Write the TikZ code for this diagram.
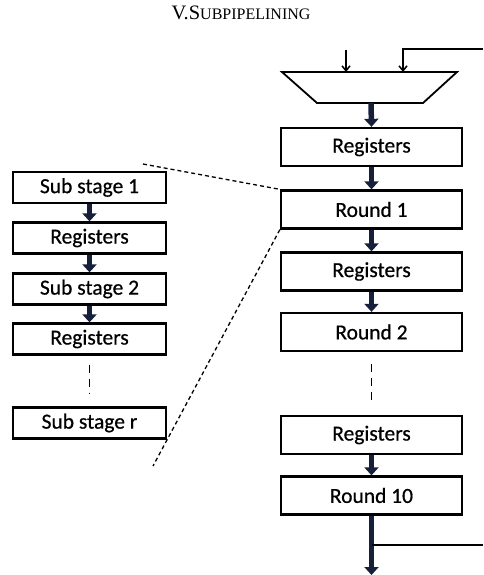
\documentclass[tikz,border=0pt]{standalone}
\usepackage{fontspec}
\setmainfont{Carlito}
\newfontface\boxfont{Carlito}[FakeBold=0.6]
\newfontfamily\titlefont{Liberation Serif}
\usetikzlibrary{arrows.meta}
\definecolor{arrnavy}{RGB}{22,32,58}
\tikzset{
  x=1pt, y=-1pt,
  rbox/.style={draw=black, line width=2.3pt, minimum width=181pt, minimum height=38pt, inner sep=0pt, font=\boxfont\fontsize{21.5}{23}\selectfont},
  lbox/.style={draw=black, line width=2.3pt, minimum width=153pt, minimum height=31pt, inner sep=0pt, font=\boxfont\fontsize{21.5}{23}\selectfont},
  fatarrow/.style={draw=arrnavy, line width=5.5pt, -{Triangle[width=14pt,length=8pt]}},
  thinarrow/.style={draw=black, line width=1.5pt, -{Straight Barb[length=5pt,width=8pt]}},
  thinline/.style={draw=black, line width=1.5pt},
  zoomline/.style={draw=black, line width=1.3pt, dash pattern=on 4pt off 3pt},
  dots/.style={draw=black, line width=1.8pt, dash pattern=on 8pt off 6pt},
}
\begin{document}
\begin{tikzpicture}
\useasboundingbox (0,0) rectangle (483,575);
\node[font=\titlefont\fontsize{20.5}{22}\selectfont] (title) at (241,13) {V.S{\fontsize{16}{18}\selectfont UBPIPELINING}};
% trapezoid (multiplexer)
\coordinate (tl) at (282,72);
\coordinate (tr) at (457,72);
\coordinate (br) at (423,103);
\coordinate (bl) at (317,103);
\draw[line width=1.8pt] (tl) -- (tr) -- (br) -- (bl) -- cycle;
\coordinate (muxout) at (371,103);
% right column
\node[rbox] (r1) at (371.5,147) {Registers};
\node[rbox] (ro1) at (371.5,209.5) {Round 1};
\node[rbox] (r2) at (371.5,271.5) {Registers};
\node[rbox] (ro2) at (371.5,332) {Round 2};
\node[rbox] (r3) at (371.5,435) {Registers};
\node[rbox] (ro10) at (371.5,495.5) {Round 10};
% left column
\node[lbox] (s1) at (89.5,187.5) {Sub stage 1};
\node[lbox] (lr1) at (89.5,238) {Registers};
\node[lbox] (s2) at (89.5,289) {Sub stage 2};
\node[lbox] (lr2) at (89.5,339) {Registers};
\node[lbox] (sr) at (89.5,423) {Sub stage r};
% fat arrows right
\draw[fatarrow] (muxout) -- (r1.north);
\draw[fatarrow] (r1) -- (ro1);
\draw[fatarrow] (ro1) -- (r2);
\draw[fatarrow] (r2) -- (ro2);
\draw[fatarrow] (r3) -- (ro10);
\coordinate (out) at (371.5,575);
\draw[fatarrow] (ro10.south) -- (out);
% fat arrows left
\draw[fatarrow] (s1) -- (lr1);
\draw[fatarrow] (lr1) -- (s2);
\draw[fatarrow] (s2) -- (lr2);
% dotted continuation
\draw[dots] ([yshift=-12pt]ro2.south) -- ([yshift=15pt]r3.north);
\draw[dots] ([yshift=-9pt]lr2.south) -- ([yshift=12pt]sr.north);
% inputs and feedback
\coordinate (in1) at (346,50);
\coordinate (mux1) at (346,72);
\draw[thinarrow] (in1) -- (mux1);
\coordinate (fbtop) at (483,49);
\coordinate (fbcorner) at (403,49);
\coordinate (mux2) at (403,72);
\draw[thinarrow] (fbtop) -- (fbcorner) -- (mux2);
\coordinate (tap) at (371.5,545);
\coordinate (fbbot) at (483,545);
\draw[thinline] (tap) -- (fbbot);
% zoom lines
\coordinate (z1) at (143,164);
\coordinate (z2) at (153,466);
\draw[zoomline] (z1) -- (ro1.north west);
\draw[zoomline] (ro1.south west) -- (z2);
\end{tikzpicture}
\end{document}
